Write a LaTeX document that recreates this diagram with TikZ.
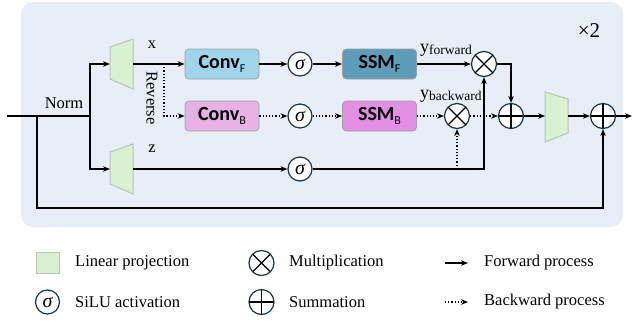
\documentclass[tikz,border=0pt]{standalone}
\usepackage{fontspec}
\setmainfont{Liberation Serif}
\newfontfamily\boxfont{Carlito}
\usetikzlibrary{arrows.meta,calc}
\definecolor{bgblue}{RGB}{231,238,248}
\definecolor{convf}{RGB}{160,212,236}
\definecolor{convb}{RGB}{230,178,230}
\definecolor{ssmf}{RGB}{93,157,186}
\definecolor{ssmb}{RGB}{226,142,226}
\definecolor{lingreen}{RGB}{217,241,208}
\definecolor{linborder}{RGB}{184,196,184}
\definecolor{boxborder}{RGB}{160,160,160}
\definecolor{circborder}{RGB}{24,52,70}
\tikzset{
  conn/.style={line width=1.2pt, -{Stealth[length=7pt,width=5.5pt]}},
  bconn/.style={conn, dotted},
  plainline/.style={line width=1.2pt},
  opbox/.style={draw=boxborder, line width=0.8pt, rounded corners=4pt, minimum width=74pt, minimum height=30pt, inner sep=0pt, font=\boxfont\bfseries\fontsize{20}{20}\selectfont},
  sig/.style={circle, draw=circborder, fill=white, line width=1.2pt, minimum size=24pt, inner sep=0pt, font=\fontsize{20}{20}\selectfont\itshape},
  mul/.style={circle, draw=circborder, fill=white, line width=1.2pt, minimum size=25pt, inner sep=0pt,
    path picture={\draw[black, line width=1.1pt] (path picture bounding box.north west) -- (path picture bounding box.south east) (path picture bounding box.north east) -- (path picture bounding box.south west);}},
  sumc/.style={circle, draw=circborder, fill=white, line width=1.2pt, minimum size=25pt, inner sep=0pt,
    path picture={\draw[black, line width=1.1pt] (path picture bounding box.north) -- (path picture bounding box.south) (path picture bounding box.east) -- (path picture bounding box.west);}},
  lin/.style={fill=lingreen, draw=linborder, line width=1pt},
  lbl/.style={font=\fontsize{16.5}{16.5}\selectfont, inner sep=0pt},
}
\newcommand{\sbx}[1]{\raisebox{-0.35ex}{\fontsize{12}{12}\selectfont\mdseries #1}}
\newcommand{\sby}[1]{\raisebox{-0.25ex}{\fontsize{13.5}{13.5}\selectfont #1}}
\begin{document}
\begin{tikzpicture}[x=1pt,y=-1pt]
\useasboundingbox (0,0) rectangle (632,322);
\fill[bgblue, rounded corners=12pt] (21,2) rectangle (623,227);

% trapezoids
\draw[lin] (110,47) -- (133,39) -- (133,89) -- (110,79) -- cycle;
\draw[lin] (110,152) -- (133,144) -- (133,194) -- (110,184) -- cycle;
\draw[lin] (545,92) -- (568,99) -- (568,133) -- (545,142) -- cycle;
\coordinate (tinx) at (110,64);
\coordinate (toutx) at (133,64);
\coordinate (tinz) at (110,169);
\coordinate (toutz) at (133,169);
\coordinate (tino) at (545,116);
\coordinate (touto) at (568,116);

% nodes
\node[opbox, fill=convf] (convf) at (222,64) {Conv\sbx{F}};
\node[opbox, fill=convb] (convb) at (222,116) {Conv\sbx{B}};
\node[sig] (s1) at (300,64) {σ};
\node[sig] (s2) at (300,116) {σ};
\node[sig] (s3) at (300,169) {σ};
\node[opbox, fill=ssmf] (ssmf) at (379.5,64) {SSM\sbx{F}};
\node[opbox, fill=ssmb] (ssmb) at (379.5,116) {SSM\sbx{B}};
\node[mul] (mf) at (484,64) {};
\node[mul] (mb) at (457,116) {};
\node[sumc] (sum1) at (511,116) {};
\node[sumc] (sum2) at (603,116) {};

% coordinates
\coordinate (in) at (7,116);
\coordinate (res) at (37,116);
\coordinate (split) at (90,116);
\coordinate (rev) at (164,64);
\coordinate (zj) at (484,169);
\coordinate (zb) at (457,169);
\coordinate (out) at (632,116);

% labels
\node[lbl, anchor=base] (norm) at (64,108) {Norm};
\node[lbl] (xl) at (152,45) {x};
\node[lbl] (zl) at (152,149) {z};
\node[lbl, rotate=-90] (revl) at (152,98) {Reverse};
\node[lbl, anchor=base west, font=\fontsize{18}{18}\selectfont] (yf) at (420,52) {y\sby{forward}};
\node[lbl, anchor=base west, font=\fontsize{18}{18}\selectfont] (yb) at (420,98) {y\sby{backward}};
\node[lbl, font=\fontsize{21}{21}\selectfont] (times) at (589,31) {×2};

% connectors
\draw[plainline] (in) -- (split);
\draw[conn] (split) |- (tinx);
\draw[conn] (split) |- (tinz);
\draw[conn] (toutx) -- (convf);
\draw[bconn] (rev) |- (convb);
\draw[conn] (convf) -- (s1);
\draw[conn] (s1) -- (ssmf);
\draw[conn] (ssmf) -- (mf);
\draw[bconn] (convb) -- (s2);
\draw[bconn] (s2) -- (ssmb);
\draw[bconn] (ssmb) -- (mb);
\draw[conn] (toutz) -- (s3);
\draw[conn] (s3) -| (mf);
\draw[bconn] (zb) -- (mb);
\draw[conn] (mf) -| (sum1);
\draw[bconn] (mb) -- (sum1);
\draw[conn] (sum1) -- (tino);
\draw[conn] (touto) -- (sum2);
\draw[conn] (sum2) -- (out);
\draw[conn] (res) -- (37,208) -| (sum2);

% legend
\draw[lin] (36,252) rectangle (59,273);
\node[sig] (lsig) at (47.5,302) {σ};
\node[mul] (lmul) at (261.5,263) {};
\node[sumc] (lsum) at (261.5,302) {};
\coordinate (fa) at (445,263);
\coordinate (fb) at (468,263);
\coordinate (ba) at (445,302);
\coordinate (bb) at (468,302);
\draw[conn] (fa) -- (fb);
\draw[bconn] (ba) -- (bb);
\node[lbl, anchor=west] (l1) at (75,263) {Linear projection};
\node[lbl, anchor=west] (l2) at (75,302) {SiLU activation};
\node[lbl, anchor=west] (l3) at (289,263) {Multiplication};
\node[lbl, anchor=west] (l4) at (289,302) {Summation};
\node[lbl, anchor=west] (l5) at (484,263) {Forward process};
\node[lbl, anchor=west] (l6) at (484,302) {Backward process};
\end{tikzpicture}
\end{document}
